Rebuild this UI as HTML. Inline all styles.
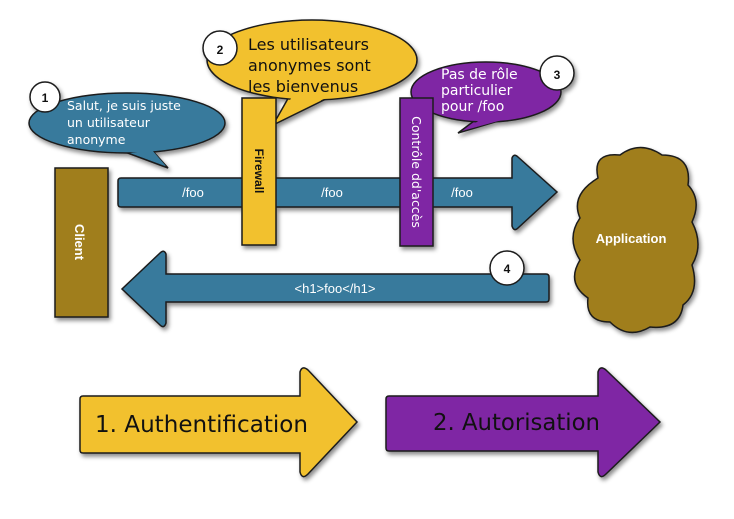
<!DOCTYPE html>
<html><head><style>body{margin:0;background:#fff}svg{display:block}</style></head><body>
<svg width="734" height="519" viewBox="0 0 734 519" xmlns="http://www.w3.org/2000/svg" font-family="Liberation Sans, sans-serif">
<defs><filter id="s" x="-20%" y="-20%" width="140%" height="140%"><feDropShadow dx="2" dy="3" stdDeviation="2" flood-color="#000" flood-opacity="0.45"/></filter></defs>
<g stroke="#1a1a1a" stroke-width="1.5" filter="url(#s)">
<!-- bubble 1 -->
<path d="M150,148 L168,168 L125,152 Z" fill="#387a9c"/>
<ellipse cx="127" cy="123" rx="98" ry="30" fill="#387a9c"/>
<path d="M152,150 L166,166 L130,153Z" fill="#387a9c" stroke="none"/>
<!-- bubble 2 -->
<path d="M290,95 L273,125 L330,97 Z" fill="#f2c12e"/>
<ellipse cx="312" cy="60" rx="105" ry="40" fill="#f2c12e"/>
<path d="M292,97 L276,121 L326,98Z" fill="#f2c12e" stroke="none"/>
<!-- bubble 3 -->
<path d="M478,118 L458,133 L505,119 Z" fill="#7f27a4"/>
<ellipse cx="486" cy="92" rx="75" ry="30" fill="#7f27a4"/>
<path d="M480,120 L462,131 L502,120Z" fill="#7f27a4" stroke="none"/>
<!-- top arrow -->
<path d="M121,178 L512,178 L512,158 Q514,153 518,157 L557,192 L518,228 Q514,232 512,226 L512,207 L121,207 Q118,207 118,204 L118,181 Q118,178 121,178Z" fill="#387a9c"/>
<!-- return arrow -->
<path d="M546,274 L166,274 L166,254 Q164,249 160,253 L122,289 L160,325 Q164,329 166,323 L166,302 L546,302 Q549,302 549,299 L549,277 Q549,274 546,274Z" fill="#387a9c"/>
<rect x="55" y="168" width="53" height="149" fill="#a07e1e"/>
<rect x="242" y="98" width="34" height="147" fill="#f2c12e"/>
<rect x="400" y="98" width="33" height="148" fill="#7f27a4"/>
<!-- cloud -->
<path d="M598,178 Q592,152 620,155 Q640,140 662,155 Q692,155 688,185 Q702,200 692,222 Q704,245 692,265 Q700,292 683,305 Q680,330 650,327 Q628,340 610,322 Q585,322 588,298 Q566,283 580,260 Q566,238 580,218 Q570,195 598,178Z" fill="#a07e1e"/>
<!-- bottom arrows -->
<path d="M83,396 L300,396 L300,372 Q302,365 308,370 L357,422 L308,474 Q302,480 300,472 L300,453 L83,453 Q80,453 80,450 L80,399 Q80,396 83,396Z" fill="#f2c12e"/>
<path d="M389,396 L598,396 L598,372 Q600,365 606,370 L660,422 L606,474 Q600,480 598,472 L598,451 L389,451 Q386,451 386,448 L386,399 Q386,396 389,396Z" fill="#7f27a4"/>
<circle cx="45" cy="97" r="15" fill="#fff"/>
<circle cx="220" cy="48" r="17" fill="#fff"/>
<circle cx="557" cy="73" r="17" fill="#fff"/>
<circle cx="507" cy="268" r="17" fill="#fff"/>
</g>
<g font-size="12" font-weight="bold" fill="#111" text-anchor="middle">
<text x="45" y="102">1</text><text x="220" y="54">2</text><text x="557" y="79">3</text><text x="507" y="273">4</text>
</g>
<g fill="#fff" font-family="DejaVu Sans, sans-serif" font-size="12.5">
<text x="67" y="110">Salut, je suis juste</text><text x="67" y="127">un utilisateur</text><text x="67" y="144">anonyme</text>
</g>
<g fill="#111" font-family="DejaVu Sans, sans-serif" font-size="16">
<text x="248" y="50">Les utilisateurs</text><text x="248" y="71">anonymes sont</text><text x="248" y="92">les bienvenus</text>
</g>
<g fill="#fff" font-family="DejaVu Sans, sans-serif" font-size="14">
<text x="441" y="79">Pas de rôle</text><text x="441" y="95">particulier</text><text x="441" y="111">pour /foo</text>
</g>
<g fill="#fff" font-size="13" text-anchor="middle">
<text x="193" y="197">/foo</text><text x="332" y="197">/foo</text><text x="462" y="197">/foo</text>
<text x="335" y="293">&lt;h1&gt;foo&lt;/h1&gt;</text>
<text x="631" y="243" font-weight="bold">Application</text>
</g>
<text transform="translate(75,242) rotate(90)" fill="#fff" font-size="13" font-weight="bold" text-anchor="middle">Client</text>
<text transform="translate(255,171) rotate(90)" fill="#111" font-size="12" font-weight="bold" text-anchor="middle">Firewall</text>
<text transform="translate(412,172) rotate(90)" fill="#fff" font-family="DejaVu Sans, sans-serif" font-size="12.5" text-anchor="middle">Contrôle dd'accès</text>
<g font-family="DejaVu Sans, sans-serif" font-size="23" fill="#111">
<text x="95" y="432" textLength="213" lengthAdjust="spacingAndGlyphs">1. Authentification</text>
<text x="433" y="430" textLength="167" lengthAdjust="spacingAndGlyphs">2. Autorisation</text>
</g>
</svg>
</body></html>
